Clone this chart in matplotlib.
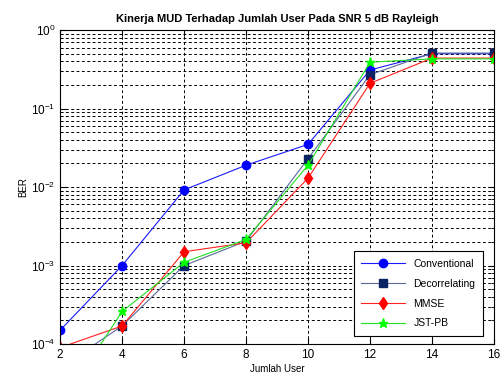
import matplotlib.pyplot as plt
import numpy as np

plt.rcParams['font.family'] = ['Liberation Sans', 'DejaVu Sans']

users = [2, 4, 6, 8, 10, 12, 14, 16]
ber_conv = [1.5e-4, 1.0e-3, 9.2e-3, 1.9e-2, 3.5e-2, 0.31, 0.50, 0.50]
ber_decor = [5.0e-5, 1.7e-4, 1.0e-3, 2.05e-3, 2.3e-2, 0.27, 0.51, 0.51]
ber_mmse = [9.0e-5, 1.7e-4, 1.5e-3, 1.95e-3, 1.3e-2, 0.21, 0.44, 0.44]
ber_jst = [1.6e-5, 2.6e-4, 1.1e-3, 2.15e-3, 1.9e-2, 0.39, 0.43, 0.43]

fig = plt.figure(figsize=(5.01, 3.81), dpi=100)
ax = fig.add_axes([0.12, 0.097, 0.866, 0.824])

ax.semilogy(users, ber_conv, '-o', color='#1a1aff', lw=0.8, ms=6,
            mfc='#0000ff', mec='#0000ff', label='Conventional')
ax.semilogy(users, ber_decor, '-s', color='#5a6a9a', lw=0.8, ms=6,
            mfc='#0a2463', mec='#0a2463', label='Decorrelating')
ax.semilogy(users, ber_mmse, '-d', color='#ff2020', lw=0.8, ms=6,
            mfc='#ff0000', mec='#ff0000', label='MMSE')
ax.semilogy(users, ber_jst, '-*', color='#20e020', lw=0.8, ms=6.5,
            mfc='#00ff00', mec='#00ff00', label='JST-PB')

ax.set_xlim(2, 16)
ax.set_ylim(1e-4, 1)
ax.set_xticks(users)

# matlab-like dotted grid on major and minor ticks
ax.grid(True, which='major', color='black', linestyle=(0, (3, 2.5)), lw=0.7)
ax.grid(True, which='minor', axis='y', color='black', linestyle=(0, (3, 2.5)), lw=0.7)
ax.tick_params(which='both', direction='in', top=True, right=True, labelsize=8.5)
ax.tick_params(which='major', length=4)
ax.tick_params(which='minor', length=2)
for s in ax.spines.values():
    s.set_linewidth(0.8)

ax.set_title('Kinerja MUD Terhadap Jumlah User Pada SNR 5 dB Rayleigh',
             fontsize=8, fontweight='bold', pad=6)
ax.set_xlabel('Jumlah User', fontsize=7, labelpad=2)
ax.set_ylabel('BER', fontsize=7, labelpad=2)

leg = ax.legend(loc='lower right', fontsize=7.5, fancybox=False,
                edgecolor='black', framealpha=1, borderpad=0.7,
                labelspacing=0.95, handlelength=4.2, bbox_to_anchor=(0.986, 0.01))
leg.get_frame().set_linewidth(0.8)

fig.savefig('out.png', dpi=100)
